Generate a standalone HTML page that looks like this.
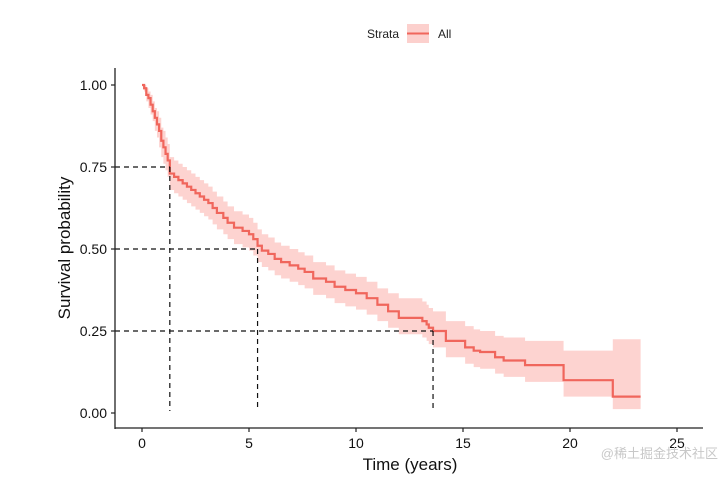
<!DOCTYPE html>
<html><head><meta charset="utf-8"><style>
body{margin:0;background:#fff;}
svg{display:block;font-family:"Liberation Sans",Arial,sans-serif;}
</style></head><body>
<svg id="chart" width="727" height="477">
<g id="legend">
<text x="383" y="38" font-size="12" fill="#222" text-anchor="middle">Strata</text>
<rect x="407" y="24" width="22" height="19" fill="#fcd0cd"/>
<line x1="407" y1="33.5" x2="429" y2="33.5" stroke="#f0665c" stroke-width="2"/>
<text x="438" y="38" font-size="12" fill="#222">All</text>
</g>
<g id="plot"></g>
<text x="410" y="470" font-size="17" fill="#111" text-anchor="middle">Time (years)</text>
<text x="70" y="248" font-size="17" fill="#111" text-anchor="middle" transform="rotate(-90 70 248)">Survival probability</text>
<text x="718" y="458" font-size="13" fill="#c8c8c8" text-anchor="end" font-family="'Liberation Sans','Noto Sans CJK SC',sans-serif">@稀土掘金技术社区</text>
</svg>
<script>
const times=[0,0.1,0.2,0.3,0.4,0.5,0.6,0.7,0.8,0.9,1.0,1.1,1.2,1.3,1.5,1.7,1.9,2.1,2.3,2.5,2.7,2.9,3.1,3.3,3.5,3.8,4.0,4.3,4.7,5.0,5.2,5.4,5.6,5.9,6.2,6.5,6.9,7.3,7.6,8.0,8.6,9.0,9.5,10.0,10.5,11.0,11.5,12.0,13.1,13.3,13.4,13.6,14.2,15.1,15.5,15.8,16.5,16.9,17.9,19.7,22.0];
const surv=[1,0.99,0.97,0.96,0.94,0.92,0.90,0.88,0.86,0.83,0.81,0.79,0.77,0.73,0.72,0.71,0.70,0.69,0.68,0.67,0.66,0.65,0.64,0.625,0.61,0.595,0.58,0.565,0.555,0.545,0.53,0.51,0.495,0.485,0.47,0.46,0.45,0.44,0.43,0.41,0.40,0.385,0.375,0.365,0.35,0.33,0.31,0.29,0.28,0.27,0.26,0.25,0.22,0.20,0.19,0.186,0.17,0.16,0.146,0.10,0.05];
const lower=[1,0.98,0.95,0.93,0.91,0.89,0.86,0.84,0.81,0.78,0.76,0.74,0.72,0.68,0.67,0.66,0.65,0.64,0.63,0.62,0.61,0.60,0.59,0.575,0.56,0.545,0.53,0.515,0.505,0.495,0.48,0.46,0.445,0.435,0.42,0.41,0.40,0.39,0.38,0.36,0.35,0.335,0.325,0.315,0.30,0.28,0.26,0.24,0.23,0.22,0.21,0.20,0.17,0.15,0.14,0.135,0.12,0.11,0.095,0.05,0.012];
const upper=[1,1,0.99,0.98,0.97,0.95,0.93,0.92,0.90,0.87,0.86,0.84,0.82,0.78,0.77,0.76,0.75,0.74,0.73,0.72,0.71,0.70,0.69,0.675,0.66,0.645,0.63,0.615,0.605,0.595,0.58,0.56,0.545,0.535,0.52,0.51,0.50,0.49,0.48,0.46,0.45,0.435,0.425,0.415,0.40,0.38,0.365,0.35,0.34,0.33,0.32,0.31,0.28,0.265,0.255,0.25,0.235,0.23,0.22,0.19,0.225];
const endTime=23.3;
const medianProbs=[0.75,0.5,0.25];
const medianTimes=[1.3,5.4,13.6];
const xTicks=[0,5,10,15,20,25];
const yTicks=[0,0.25,0.5,0.75,1];
const yTickLabels=["0.00","0.25","0.50","0.75","1.00"];

const NS="http://www.w3.org/2000/svg";
const X=t=>142+t*(677-142)/25;
const Y=s=>413-s*328;
const g=document.getElementById('plot');
function mk(tag,attrs){const e=document.createElementNS(NS,tag);for(const k in attrs)e.setAttribute(k,attrs[k]);g.appendChild(e);return e;}
function stepPath(vals){let d=`M${X(times[0])},${Y(vals[0])}`;for(let i=1;i<times.length;i++){d+=`H${X(times[i])}V${Y(vals[i])}`;}d+=`H${X(endTime)}`;return d;}
let up=`M${X(times[0])},${Y(upper[0])}`;
for(let i=1;i<times.length;i++){up+=`H${X(times[i])}V${Y(upper[i])}`;}
up+=`H${X(endTime)}V${Y(lower[lower.length-1])}`;
for(let i=times.length-1;i>0;i--){up+=`H${X(times[i])}V${Y(lower[i-1])}`;}
up+=`H${X(times[0])}Z`;
const band=mk('path',{d:up,fill:'#fdd3d0',stroke:'none'});


const line=mk('path',{d:stepPath(surv),fill:'none',stroke:'#f0665c','stroke-width':2.2});


medianProbs.forEach((p,i)=>{
 const h=mk('line',{x1:115,x2:X(medianTimes[i]),y1:Y(p),y2:Y(p),stroke:'#111','stroke-width':1.2,'stroke-dasharray':'5,4'});
 
 
 const v=mk('line',{x1:X(medianTimes[i]),x2:X(medianTimes[i]),y1:Y(p),y2:411,stroke:'#111','stroke-width':1.2,'stroke-dasharray':'5,4'});
 
 
});
const ya=mk('line',{x1:115,x2:115,y1:68,y2:429,stroke:'#222','stroke-width':1.3});


const xa=mk('line',{x1:115,x2:703,y1:428,y2:428,stroke:'#222','stroke-width':1.3});


yTicks.forEach((v,i)=>{
 const t=mk('line',{x1:111,x2:115,y1:Y(v),y2:Y(v),stroke:'#222','stroke-width':1.2});
 
 
 const l=mk('text',{x:107,y:Y(v)+5,'font-size':14,'text-anchor':'end',fill:'#111'});
 l.textContent=yTickLabels[i];
 
 
});
xTicks.forEach(v=>{
 const t=mk('line',{x1:X(v),x2:X(v),y1:428,y2:432,stroke:'#222','stroke-width':1.2});
 
 
 const l=mk('text',{x:X(v),y:448,'font-size':14,'text-anchor':'middle',fill:'#111'});
 l.textContent=String(v);
 
 
});
</script>
</body></html>
